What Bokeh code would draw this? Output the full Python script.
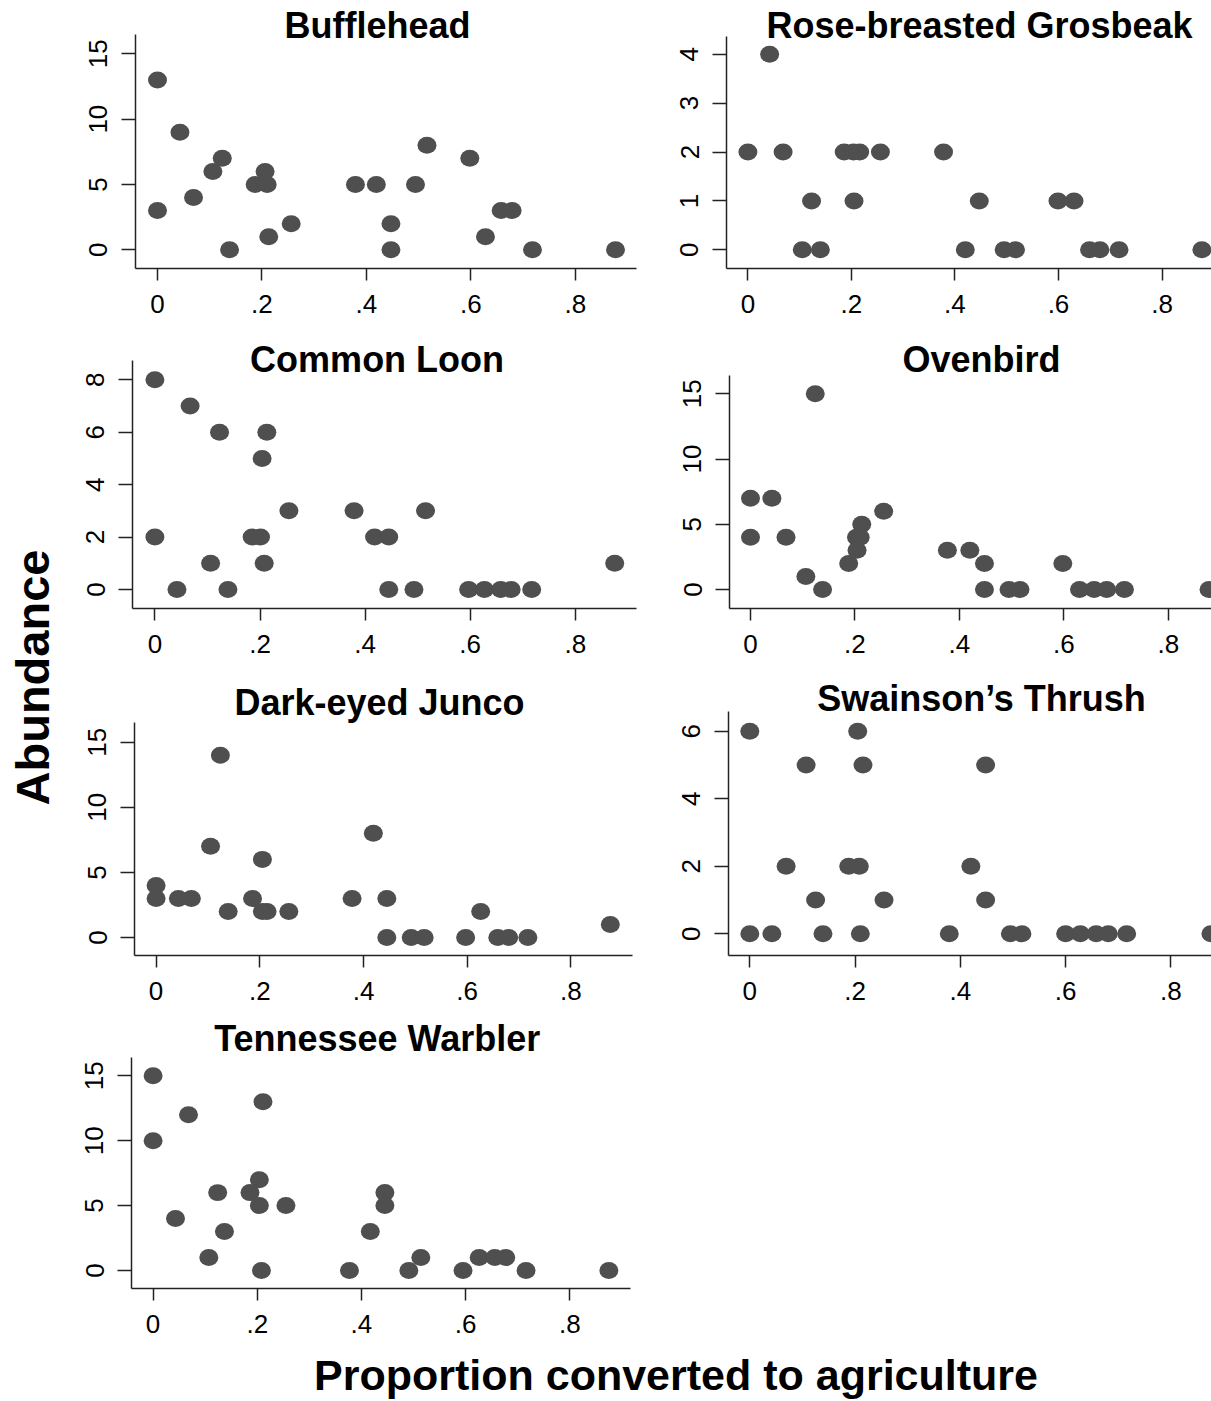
import math
from bokeh.plotting import figure
from bokeh.models import Range1d, FixedTicker, Label, ColumnDataSource
from bokeh.layouts import row, column
from bokeh.embed import file_html
from bokeh.resources import INLINE

# ---------------- data ----------------
bufflehead_x = [0, 0, 0.043, 0.069, 0.106, 0.124, 0.138, 0.187, 0.206, 0.210, 0.213, 0.256,
                0.379, 0.419, 0.447, 0.447, 0.494, 0.516, 0.598, 0.628, 0.658, 0.679, 0.718, 0.877]
bufflehead_y = [13, 3, 9, 4, 6, 7, 0, 5, 6, 5, 1, 2, 5, 5, 2, 0, 5, 8, 7, 1, 3, 3, 0, 0]

grosbeak_x = [0.042, 0, 0.068, 0.186, 0.204, 0.216, 0.256, 0.378, 0.123, 0.205, 0.447, 0.599,
              0.630, 0.105, 0.140, 0.420, 0.495, 0.517, 0.660, 0.680, 0.717, 0.877]
grosbeak_y = [4, 2, 2, 2, 2, 2, 2, 2, 1, 1, 1, 1, 1, 0, 0, 0, 0, 0, 0, 0, 0, 0]

loon_x = [0, 0, 0.042, 0.067, 0.106, 0.123, 0.139, 0.185, 0.201, 0.204, 0.208, 0.213, 0.255,
          0.379, 0.418, 0.445, 0.445, 0.493, 0.515, 0.597, 0.627, 0.658, 0.678, 0.717, 0.875]
loon_y = [8, 2, 0, 7, 1, 6, 0, 2, 2, 5, 1, 6, 3, 3, 2, 2, 0, 0, 3, 0, 0, 0, 0, 0, 1]

ovenbird_x = [0, 0, 0.041, 0.068, 0.124, 0.106, 0.138, 0.188, 0.204, 0.203, 0.210, 0.213, 0.255,
              0.377, 0.420, 0.448, 0.448, 0.495, 0.516, 0.598, 0.630, 0.658, 0.682, 0.716, 0.878]
ovenbird_y = [7, 4, 7, 4, 15, 1, 0, 2, 3, 4, 4, 5, 6, 3, 3, 2, 0, 0, 0, 2, 0, 0, 0, 0, 0]

junco_x = [0, 0, 0.043, 0.068, 0.105, 0.124, 0.139, 0.186, 0.205, 0.205, 0.214, 0.256,
           0.378, 0.419, 0.445, 0.445, 0.492, 0.517, 0.597, 0.626, 0.659, 0.680, 0.717, 0.876]
junco_y = [4, 3, 3, 3, 7, 14, 2, 3, 6, 2, 2, 2, 3, 8, 3, 0, 0, 0, 0, 2, 0, 0, 0, 1]

thrush_x = [0, 0, 0.042, 0.069, 0.107, 0.125, 0.139, 0.188, 0.205, 0.208, 0.210, 0.215, 0.255,
            0.379, 0.420, 0.448, 0.448, 0.495, 0.517, 0.600, 0.628, 0.658, 0.681, 0.716, 0.876]
thrush_y = [6, 0, 0, 2, 5, 1, 0, 2, 6, 2, 0, 5, 1, 0, 2, 5, 1, 0, 0, 0, 0, 0, 0, 0, 0]

warbler_x = [0, 0, 0.043, 0.068, 0.107, 0.124, 0.137, 0.186, 0.204, 0.204, 0.211, 0.208, 0.255,
             0.377, 0.417, 0.445, 0.445, 0.491, 0.514, 0.595, 0.626, 0.656, 0.677, 0.716, 0.875]
warbler_y = [15, 10, 4, 12, 1, 6, 3, 6, 7, 5, 13, 0, 5, 0, 3, 6, 5, 0, 1, 0, 1, 1, 1, 0, 0]

x_ticks = [0, 0.2, 0.4, 0.6, 0.8]
x_tick_labels = ["0", ".2", ".4", ".6", ".8"]
y_ticks_15 = [0, 5, 10, 15]
y_ticks_4 = [0, 1, 2, 3, 4]
y_ticks_8 = [0, 2, 4, 6, 8]
y_ticks_6 = [0, 2, 4, 6]

y_axis_title = "Abundance"
x_axis_title = "Proportion converted to agriculture"

# ---------------- styling ----------------
FONT = "Liberation Sans"
POINT_COLOR = "#4f4f4f"
AXIS_COLOR = "#222222"
TITLE_SIZE = "36px"
TICK_SIZE = "26px"

# page layout in page pixels (root sits at the page's top-left corner)
LEFT_W = 70
COL1_X, COL1_W = 70, 570
COL2_X, COL2_W = 640, 571
ROWS = [(0, 330), (330, 340), (670, 345), (1015, 335)]
ROW_AXIS = [268, 608, 955, 1288]          # x-axis line of each row
PAGE_H = 1401

panels = [
    dict(title="Bufflehead", x=bufflehead_x, y=bufflehead_y, yt=y_ticks_15, col=1, row=0,
         left=135, right=636, ytop=34.3,
         xcal=(157.0, 574.8), ycal=(249.3, 53.3, 15), tpos=(377.0, 25)),
    dict(title="Rose-breasted Grosbeak", x=grosbeak_x, y=grosbeak_y, yt=y_ticks_4, col=2, row=0,
         left=726, right=1211, ytop=36,
         xcal=(747.4, 1161.5), ycal=(249.3, 53.7, 4), tpos=(979.0, 25)),
    dict(title="Common Loon", x=loon_x, y=loon_y, yt=y_ticks_8, col=1, row=1,
         left=132, right=636, ytop=360,
         xcal=(154.4, 574.8), ycal=(589.0, 379.3, 8), tpos=(376.6, 359)),
    dict(title="Ovenbird", x=ovenbird_x, y=ovenbird_y, yt=y_ticks_15, col=2, row=1,
         left=729, right=1211, ytop=375,
         xcal=(750.0, 1167.8), ycal=(589.0, 393.3, 15), tpos=(981.0, 359)),
    dict(title="Dark-eyed Junco", x=junco_x, y=junco_y, yt=y_ticks_15, col=1, row=2,
         left=134, right=632, ytop=722.3,
         xcal=(155.6, 570.4), ycal=(937.0, 741.7, 15), tpos=(379.0, 701.7)),
    dict(title="Swainson\u2019s Thrush", x=thrush_x, y=thrush_y, yt=y_ticks_6, col=2, row=2,
         left=728, right=1211, ytop=710.7,
         xcal=(749.3, 1170.4), ycal=(933.3, 730.7, 6), tpos=(981.0, 698.3)),
    dict(title="Tennessee Warbler", x=warbler_x, y=warbler_y, yt=y_ticks_15, col=1, row=3,
         left=131, right=630, ytop=1056.7,
         xcal=(152.6, 569.3), ycal=(1270.0, 1075.3, 15), tpos=(376.7, 1037.5)),
]


def make_panel(cfg):
    fx, fw = (COL1_X, COL1_W) if cfg["col"] == 1 else (COL2_X, COL2_W)
    fy, fh = ROWS[cfg["row"]]
    l, r = cfg["left"], cfg["right"]
    t, b = fy, ROW_AXIS[cfg["row"]]
    x0, x8 = cfg["xcal"]
    ppx = (x8 - x0) / 0.8
    y0, yr, yv = cfg["ycal"]
    ppy = (y0 - yr) / yv
    ystart = (y0 - b) / ppy
    p = figure(width=fw, height=fh, title=None,
               x_range=Range1d((l - x0) / ppx, (r - x0) / ppx),
               y_range=Range1d(ystart, (y0 - t) / ppy),
               output_backend="svg", toolbar_location=None,
               min_border_left=l - fx, min_border_right=fx + fw - r,
               min_border_top=t - fy, min_border_bottom=fy + fh - b)
    p.outline_line_color = None
    p.grid.visible = False
    p.background_fill_color = "white"
    p.border_fill_color = "white"

    src = ColumnDataSource(dict(x=cfg["x"], y=cfg["y"]))
    p.ellipse(x="x", y="y", width=19, height=17, width_units="screen",
              height_units="screen", fill_color=POINT_COLOR, line_color=None, source=src)

    xa = p.xaxis[0]
    xa.ticker = FixedTicker(ticks=x_ticks)
    xa.major_label_overrides = {t_: s for t_, s in zip(x_ticks, x_tick_labels)}
    ya = p.yaxis[0]
    ya.ticker = FixedTicker(ticks=cfg["yt"])
    ya.major_label_orientation = "parallel"
    ya.bounds = (ystart, (y0 - cfg["ytop"]) / ppy)
    for ax, tick_len, standoff in ((xa, 12, 14), (ya, 14, 14)):
        ax.axis_line_color = AXIS_COLOR
        ax.axis_line_width = 1.5
        ax.major_tick_line_color = AXIS_COLOR
        ax.major_tick_line_width = 1.5
        ax.major_tick_in = 0
        ax.major_tick_out = tick_len
        ax.minor_tick_line_color = None
        ax.major_label_text_font = FONT
        ax.major_label_text_font_size = TICK_SIZE
        ax.major_label_text_color = "black"
        ax.major_label_standoff = standoff

    cx, cy = cfg["tpos"]
    p.add_layout(Label(x=(cx - x0) / ppx, y=(y0 - cy) / ppy, text=cfg["title"],
                       text_align="center", text_baseline="middle",
                       text_font=FONT, text_font_size=TITLE_SIZE,
                       text_font_style="bold", text_color="black"))
    return p


figs = [make_panel(c) for c in panels]

# left label strip
GRID_H = ROWS[-1][0] + ROWS[-1][1]
left = figure(width=LEFT_W, height=GRID_H, title=None, x_range=Range1d(0, LEFT_W),
              y_range=Range1d(0, GRID_H), output_backend="svg", toolbar_location=None,
              x_axis_location=None, y_axis_location=None, min_border=0)
left.outline_line_color = None
left.grid.visible = False
left.add_layout(Label(x=31.5, y=GRID_H - 677, text=y_axis_title, angle=math.pi / 2,
                      text_align="center", text_baseline="middle", text_font=FONT,
                      text_font_size="47px", text_font_style="bold", text_color="black"))

# bottom label strip
BOT_H = PAGE_H - GRID_H
TOTAL_W = COL2_X + COL2_W
bottom = figure(width=TOTAL_W, height=BOT_H, title=None, x_range=Range1d(0, TOTAL_W),
                y_range=Range1d(0, BOT_H), output_backend="svg", toolbar_location=None,
                x_axis_location=None, y_axis_location=None, min_border=0)
bottom.outline_line_color = None
bottom.grid.visible = False
bottom.add_layout(Label(x=675.5, y=PAGE_H - 1374, text=x_axis_title,
                        text_align="center", text_baseline="middle", text_font=FONT,
                        text_font_size="43px", text_font_style="bold", text_color="black"))

grid = column(row(figs[0], figs[1]), row(figs[2], figs[3]), row(figs[4], figs[5]), row(figs[6]))
layout = column(row(left, grid), bottom)

open("out.html", "w").write(file_html(layout, INLINE))
